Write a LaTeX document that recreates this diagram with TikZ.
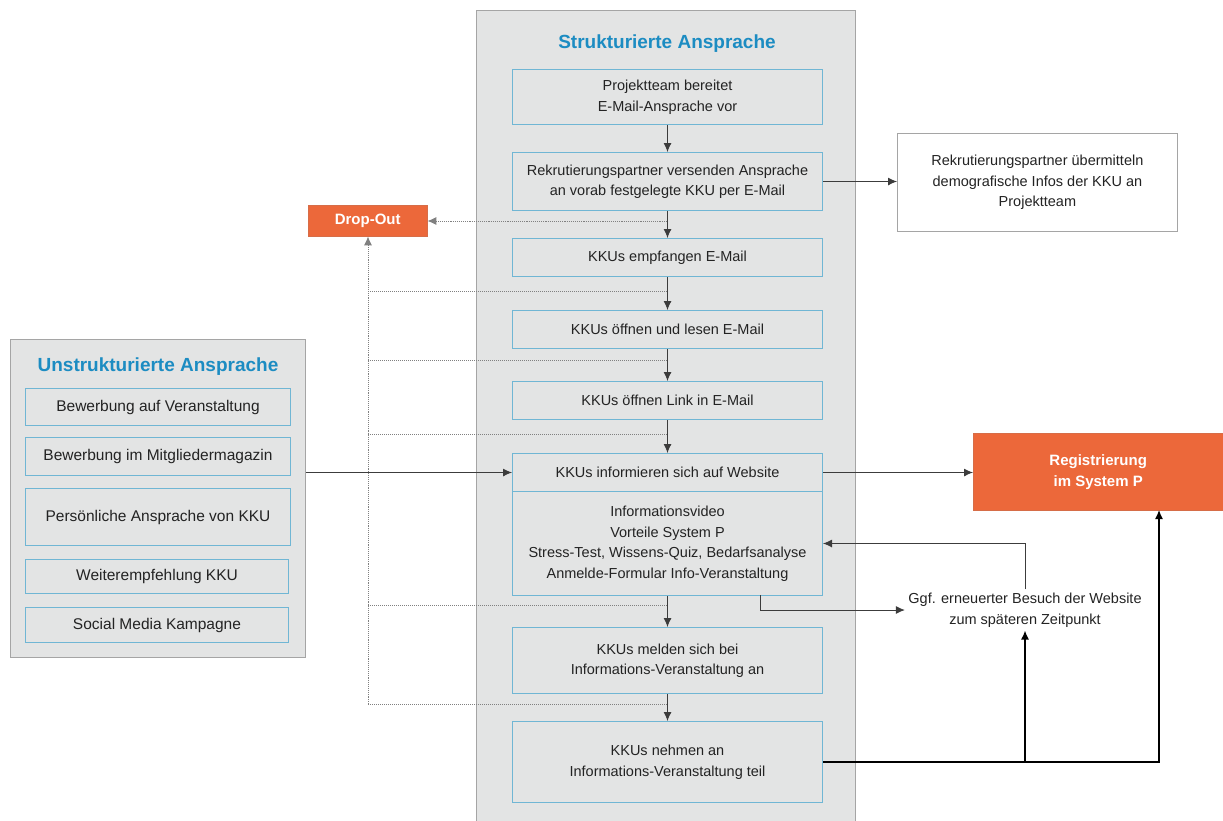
\documentclass[tikz,border=0pt]{standalone}
\usepackage{fontspec}
\setmainfont{Liberation Sans}
\usetikzlibrary{arrows.meta}
\definecolor{panelgray}{RGB}{227,228,228}
\definecolor{panelline}{RGB}{165,165,165}
\definecolor{boxblue}{RGB}{112,182,212}
\definecolor{titleblue}{RGB}{28,140,194}
\definecolor{ocre}{RGB}{236,104,58}
\definecolor{arrowgray}{RGB}{60,60,60}
\definecolor{textgray}{RGB}{35,35,35}
\tikzset{
  panel/.style={draw=panelline, fill=panelgray, line width=0.8pt, anchor=north west},
  paneltitle/.style={text=titleblue, font=\fontsize{19}{22}\selectfont\bfseries},
  stepbox/.style={draw=boxblue, fill=panelgray, line width=1pt, anchor=north west, text=textgray,
    minimum width=310pt, align=center, inner sep=2pt, font=\fontsize{14.5}{20.5}\selectfont},
  sourcebox/.style={stepbox, minimum width=265pt, font=\fontsize{15.5}{20.5}\selectfont},
  orangebox/.style={fill=ocre, draw=ocre!80!gray, text=white, anchor=north west,
    align=center, font=\fontsize{15}{21}\selectfont\bfseries},
  flow/.style={->, >={Latex[length=9pt,width=8pt]}, draw=arrowgray, line width=0.9pt},
  dropflow/.style={flow, draw=gray, densely dotted},
  dropline/.style={draw=gray, densely dotted, line width=1pt},
  textonly/.style={align=center, text=textgray, font=\fontsize{14.5}{20.5}\selectfont}
}
\begin{document}
\begin{tikzpicture}[x=1pt,y=-1pt]
\useasboundingbox (0,0) rectangle (1223,820);

% strukturierte Ansprache
\node[panel, minimum width=379pt, minimum height=820pt] (struct) at (476,10) {};
\node[paneltitle] (structtitle) at (667,44) {Strukturierte Ansprache};
\node[stepbox, minimum height=55pt] (prep) at (512,69) {Projektteam bereitet\\E-Mail-Ansprache vor};
\node[stepbox, minimum height=58pt] (send) at (512,152) {Rekrutierungspartner versenden Ansprache\\an vorab festgelegte KKU per E-Mail};
\node[stepbox, minimum height=38pt] (recv) at (512,238) {KKUs empfangen E-Mail};
\node[stepbox, minimum height=38pt] (read) at (512,310) {KKUs öffnen und lesen E-Mail};
\node[stepbox, minimum height=38pt] (link) at (512,381) {KKUs öffnen Link in E-Mail};
\node[stepbox, minimum height=38pt] (web) at (512,453) {KKUs informieren sich auf Website};
\node[stepbox, minimum height=104pt] (webinfo) at (512,491) {Informationsvideo\\Vorteile System P\\Stress-Test, Wissens-Quiz, Bedarfsanalyse\\Anmelde-Formular Info-Veranstaltung};
\node[stepbox, minimum height=66pt] (signup) at (512,627) {KKUs melden sich bei\\Informations-Veranstaltung an};
\node[stepbox, minimum height=81pt] (attend) at (512,721) {KKUs nehmen an\\Informations-Veranstaltung teil};

% unstrukturierte Ansprache
\node[panel, minimum width=295pt, minimum height=318pt] (unstruct) at (10,339) {};
\node[paneltitle] (unstructtitle) at (158,367) {Unstrukturierte Ansprache};
\node[sourcebox, minimum height=37pt] (fair) at (25,388) {Bewerbung auf Veranstaltung};
\node[sourcebox, minimum height=38pt] (mag) at (25,437) {Bewerbung im Mitgliedermagazin};
\node[sourcebox, minimum height=57pt] (pers) at (25,488) {Persönliche Ansprache von KKU};
\node[sourcebox, minimum height=34pt, minimum width=263pt] (recom) at (25,559) {Weiterempfehlung KKU};
\node[sourcebox, minimum height=35pt, minimum width=263pt] (social) at (25,607) {Social Media Kampagne};

% rechte Seite
\node[draw=panelline, fill=white, line width=0.8pt, anchor=north west, minimum width=280pt,
  minimum height=98pt, textonly] (demo) at (897,133) {Rekrutierungspartner übermitteln\\demografische Infos der KKU an\\Projektteam};
\node[orangebox, minimum width=119pt, minimum height=31pt] (dropout) at (308,205) {Drop-Out};
\node[orangebox, minimum width=250pt, minimum height=77pt] (reg) at (973,433) {Registrierung\\im System P};
\node[textonly] (revisit) at (1025,610) {Ggf. erneuerter Besuch der Website\\zum späteren Zeitpunkt};

% Hauptfluss
\draw[flow] (prep) -- (send);
\draw[flow] (send) -- (recv);
\draw[flow] (recv) -- (read);
\draw[flow] (read) -- (link);
\draw[flow] (link) -- (web);
\draw[flow] (webinfo) -- (signup);
\draw[flow] (signup) -- (attend);
\draw[flow] (send.east) -- (send.east -| demo.west);
\draw[flow] (web.east) -- (web.east -| reg.west);
\draw[flow] (unstruct.east |- web.west) -- (web.west);

% Drop-Out
\coordinate (dsend) at (667,221);
\coordinate (dbottom) at (368,704);
\draw[dropflow] (dsend) -- (dsend -| dropout.east);
\foreach \y in {291,360,434,605,704}
  \draw[dropline] (368,\y) -- (667,\y);
\draw[dropflow] (dbottom) -- (dbottom |- dropout.south);

% erneuter Besuch
\coordinate (webout) at (760,595);
\coordinate (regin) at (1159,510);
\draw[flow] (revisit.north) |- (webinfo.east);
\draw[flow] (webout) |- (revisit.west);
\draw[flow, draw=black, line width=1.3pt] (attend.east) -| (regin);
\draw[flow, draw=black, line width=1.3pt] (attend.east -| revisit.south) -- (revisit.south);

\end{tikzpicture}
\end{document}
